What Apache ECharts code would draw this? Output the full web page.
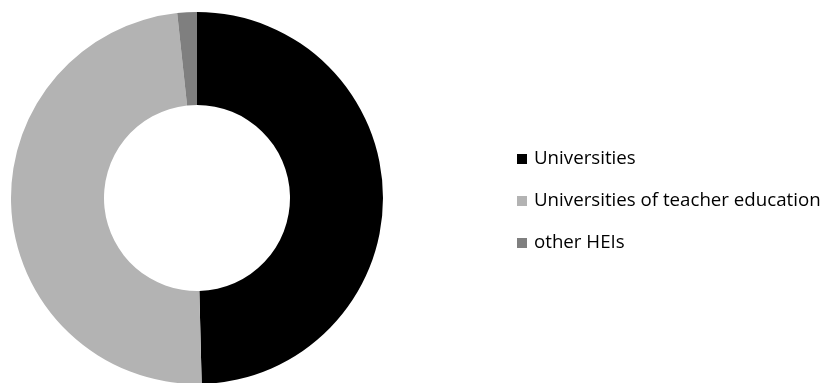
<!DOCTYPE html>
<html>
<head>
<meta charset="utf-8">
<script src="https://cdn.jsdelivr.net/npm/echarts@6/dist/echarts.min.js"></script>
<style>
  html, body { margin: 0; padding: 0; background: #fff; }
  #chart { width: 822px; height: 383px; }
</style>
</head>
<body>
<div id="chart"></div>
<script>
// Share of students by type of higher education institution (%)
const categories = ['Universities', 'Universities of teacher education', 'other HEIs'];
const shares = [49.6, 48.7, 1.7];
const colors = ['#000000', '#b3b3b3', '#7f7f7f'];

const chart = echarts.init(document.getElementById('chart'), null, { renderer: 'canvas' });
chart.setOption({
  animation: false,
  color: colors,
  legend: {
    orient: 'vertical',
    left: 517,
    top: 148,
    padding: 0,
    itemWidth: 10,
    itemHeight: 10,
    itemGap: 20,
    icon: 'rect',
    textStyle: { fontFamily: 'Open Sans', fontSize: 18.7, color: '#000', padding: [0, 0, 0, 2], lineHeight: 22 },
    data: categories
  },
  series: [{
    type: 'pie',
    center: [197, 198],
    radius: [93, 186],
    startAngle: 90,
    clockwise: true,
    label: { show: false },
    labelLine: { show: false },
    emphasis: { disabled: true },
    itemStyle: { borderWidth: 0 },
    data: categories.map((name, i) => ({ name, value: shares[i] }))
  }]
});
</script>
</body>
</html>
